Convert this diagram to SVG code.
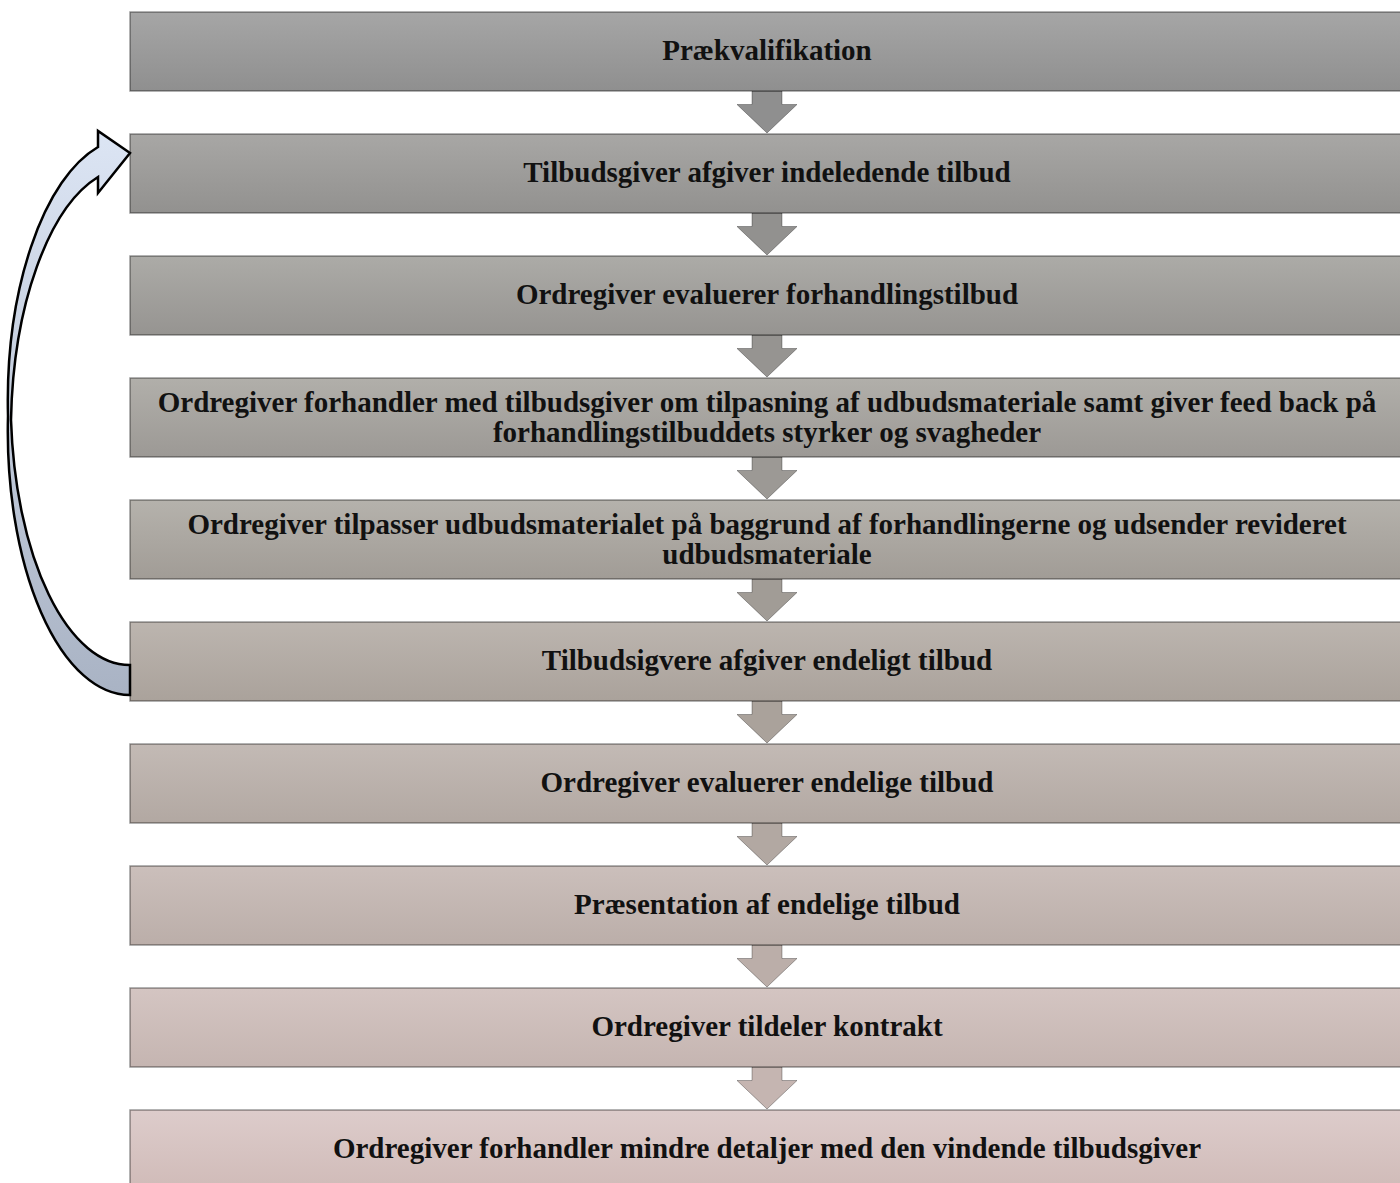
<svg xmlns="http://www.w3.org/2000/svg" width="1400" height="1183" viewBox="0 0 1400 1183">
<style>
.box{stroke:#000;stroke-opacity:0.4;stroke-width:1.5}
.chev{stroke:#000;stroke-opacity:0.3;stroke-width:1}
.lbl{font-family:"Liberation Serif","Times New Roman",serif;font-weight:bold;font-size:29px;fill:#111;text-anchor:middle}
.loop{stroke:#000;stroke-width:2.5;stroke-linejoin:miter;fill:url(#gLoop)}
</style>
<defs>
<linearGradient id="g1" x1="0" y1="0" x2="0" y2="1"><stop offset="0" stop-color="rgb(166,166,166)"/><stop offset="1" stop-color="rgb(143,143,143)"/></linearGradient>
<linearGradient id="g2" x1="0" y1="0" x2="0" y2="1"><stop offset="0" stop-color="rgb(168,167,165)"/><stop offset="1" stop-color="rgb(146,145,143)"/></linearGradient>
<linearGradient id="g3" x1="0" y1="0" x2="0" y2="1"><stop offset="0" stop-color="rgb(172,171,167)"/><stop offset="1" stop-color="rgb(150,148,145)"/></linearGradient>
<linearGradient id="g4" x1="0" y1="0" x2="0" y2="1"><stop offset="0" stop-color="rgb(177,175,170)"/><stop offset="1" stop-color="rgb(156,153,149)"/></linearGradient>
<linearGradient id="g5" x1="0" y1="0" x2="0" y2="1"><stop offset="0" stop-color="rgb(181,178,172)"/><stop offset="1" stop-color="rgb(161,156,150)"/></linearGradient>
<linearGradient id="g6" x1="0" y1="0" x2="0" y2="1"><stop offset="0" stop-color="rgb(188,181,175)"/><stop offset="1" stop-color="rgb(170,162,155)"/></linearGradient>
<linearGradient id="g7" x1="0" y1="0" x2="0" y2="1"><stop offset="0" stop-color="rgb(195,186,181)"/><stop offset="1" stop-color="rgb(178,168,162)"/></linearGradient>
<linearGradient id="g8" x1="0" y1="0" x2="0" y2="1"><stop offset="0" stop-color="rgb(203,191,187)"/><stop offset="1" stop-color="rgb(187,174,169)"/></linearGradient>
<linearGradient id="g9" x1="0" y1="0" x2="0" y2="1"><stop offset="0" stop-color="rgb(212,197,194)"/><stop offset="1" stop-color="rgb(197,181,177)"/></linearGradient>
<linearGradient id="g10" x1="0" y1="0" x2="0" y2="1"><stop offset="0" stop-color="rgb(221,204,203)"/><stop offset="1" stop-color="rgb(208,187,184)"/></linearGradient>
<linearGradient id="gLoop" gradientUnits="userSpaceOnUse" x1="0" y1="131" x2="0" y2="695"><stop offset="0" stop-color="#dce5f4"/><stop offset="1" stop-color="#a9b3c4"/></linearGradient>
<path id="chevShape" d="M752,0 H782 V13.5 H797 L767,42 L737,13.5 H752 Z"/>
</defs>

<g id="connectors">
<use href="#chevShape" class="chev" y="91" fill="rgb(143,143,143)"/>
<use href="#chevShape" class="chev" y="213" fill="rgb(146,145,143)"/>
<use href="#chevShape" class="chev" y="335" fill="rgb(150,148,145)"/>
<use href="#chevShape" class="chev" y="457" fill="rgb(156,153,149)"/>
<use href="#chevShape" class="chev" y="579" fill="rgb(161,156,150)"/>
<use href="#chevShape" class="chev" y="701" fill="rgb(170,162,155)"/>
<use href="#chevShape" class="chev" y="823" fill="rgb(178,168,162)"/>
<use href="#chevShape" class="chev" y="945" fill="rgb(187,174,169)"/>
<use href="#chevShape" class="chev" y="1067" fill="rgb(197,181,177)"/>
</g>

<g id="n1"><rect class="box" x="130" y="12" width="1274" height="79" fill="url(#g1)"/><text class="lbl" x="767" y="59.5">Prækvalifikation</text></g>
<g id="n2"><rect class="box" x="130" y="134" width="1274" height="79" fill="url(#g2)"/><text class="lbl" x="767" y="181.5">Tilbudsgiver afgiver indeledende tilbud</text></g>
<g id="n3"><rect class="box" x="130" y="256" width="1274" height="79" fill="url(#g3)"/><text class="lbl" x="767" y="303.5">Ordregiver evaluerer forhandlingstilbud</text></g>
<g id="n4"><rect class="box" x="130" y="378" width="1274" height="79" fill="url(#g4)"/><text class="lbl" x="767" y="411.5">Ordregiver forhandler med tilbudsgiver om tilpasning af udbudsmateriale samt giver feed back på</text><text class="lbl" x="767" y="441.5">forhandlingstilbuddets styrker og svagheder</text></g>
<g id="n5"><rect class="box" x="130" y="500" width="1274" height="79" fill="url(#g5)"/><text class="lbl" x="767" y="533.5">Ordregiver tilpasser udbudsmaterialet på baggrund af forhandlingerne og udsender revideret</text><text class="lbl" x="767" y="563.5">udbudsmateriale</text></g>
<g id="n6"><rect class="box" x="130" y="622" width="1274" height="79" fill="url(#g6)"/><text class="lbl" x="767" y="669.5">Tilbudsigvere afgiver endeligt tilbud</text></g>
<g id="n7"><rect class="box" x="130" y="744" width="1274" height="79" fill="url(#g7)"/><text class="lbl" x="767" y="791.5">Ordregiver evaluerer endelige tilbud</text></g>
<g id="n8"><rect class="box" x="130" y="866" width="1274" height="79" fill="url(#g8)"/><text class="lbl" x="767" y="913.5">Præsentation af endelige tilbud</text></g>
<g id="n9"><rect class="box" x="130" y="988" width="1274" height="79" fill="url(#g9)"/><text class="lbl" x="767" y="1035.5">Ordregiver tildeler kontrakt</text></g>
<g id="n10"><rect class="box" x="130" y="1110" width="1274" height="79" fill="url(#g10)"/><text class="lbl" x="767" y="1157.5">Ordregiver forhandler mindre detaljer med den vindende tilbudsgiver</text></g>

<g id="loop-arrow">
<path class="loop" d="M130,695 A122,263.6 0 0 1 8,416 A122,263.6 0 0 1 98,147 L98,131 L130,153 L98,193 L98,177 A119,264 0 0 0 11,420 A119,264 0 0 0 130,665 Z"/>
</g>
</svg>
